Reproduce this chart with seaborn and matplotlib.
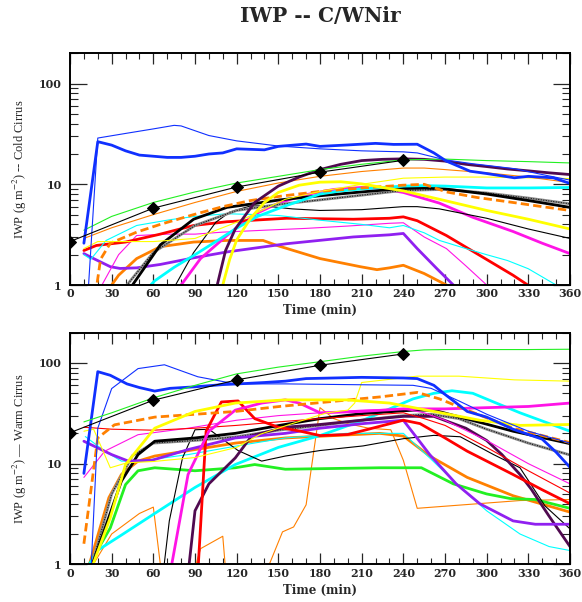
import numpy as np
import pandas as pd
import matplotlib
matplotlib.use("Agg")
import matplotlib.pyplot as plt
import matplotlib.ticker as mticker
import seaborn as sns

# ---------------- data (time in min, IWP in g m-2) ----------------
x_ticks = [0, 30, 60, 90, 120, 150, 180, 210, 240, 270, 300, 330, 360]
x_tick_labels = [str(t) for t in x_ticks]
y_ticks = [1, 10, 100]
y_tick_labels = ["1", "10", "100"]

# Cold cirrus panel
cold_diam = ([0, 60, 120, 180, 240], [2.7, 5.8, 9.4, 13.2, 17.3])
cold_green_thin = ([10, 30, 60, 90, 120, 150, 180, 210, 240, 270, 300, 330, 360],
                   [3.5, 4.8, 6.6, 8.4, 10.3, 12.0, 14.0, 15.8, 17.5, 17.8, 17.2, 16.8, 16.3])
cold_blue_thin = ([12, 20, 40, 60, 75, 80, 100, 120, 150, 180, 210, 240, 250, 270, 290, 320, 340, 360],
                  [0.5, 28.8, 32.0, 35.5, 38.5, 38.0, 30.5, 27.0, 24.0, 22.5, 21.5, 21.0, 20.5, 17.5, 16.0, 14.3, 12.5, 11.0])
cold_blue_thick = ([10, 20, 30, 40, 50, 60, 70, 80, 90, 100, 110, 120, 140, 150, 170, 180, 200, 220, 233, 250,
                    262, 271, 288, 300, 320, 330, 348, 360],
                   [2.6, 26.5, 24.5, 21.5, 19.5, 19.0, 18.5, 18.5, 19.0, 20.0, 20.5, 22.5, 22.0, 23.8, 25.1, 23.8,
                    24.6, 25.5, 24.9, 25.0, 20.5, 17.0, 13.5, 12.8, 11.6, 12.0, 11.6, 10.2])
cold_orange_thin = ([10, 30, 60, 90, 120, 150, 180, 210, 240, 255, 270, 300, 330, 360],
                    [2.9, 3.7, 5.0, 6.6, 8.5, 10.3, 12.0, 13.4, 14.5, 14.5, 14.0, 13.0, 11.8, 10.4])
cold_darkpurple = ([100, 106, 112, 119, 133, 150, 165, 180, 195, 210, 225, 240, 255, 270, 285, 300, 315, 330, 345, 360],
                   [0.2, 1.0, 2.2, 3.6, 6.6, 9.6, 11.8, 14.0, 15.8, 17.2, 17.7, 17.9, 17.7, 17.0, 15.8, 15.0, 14.2, 13.6, 13.0, 12.5])
cold_yellow_thin = ([10, 20, 30, 60, 90, 120, 155, 180, 210, 240, 270, 300, 330, 360],
                    [2.3, 2.7, 2.7, 2.7, 2.9, 4.2, 7.1, 8.5, 10.0, 11.5, 11.8, 11.8, 11.6, 11.4])
cold_yellow_thick = ([104, 110, 115, 120, 130, 140, 150, 165, 180, 195, 210, 225, 240, 266, 300, 330, 360],
                     [0.3, 1.0, 1.8, 2.8, 4.6, 6.6, 8.3, 9.8, 10.5, 10.6, 10.1, 9.3, 8.6, 7.1, 5.5, 4.5, 3.6])
cold_cyan_thick = ([55, 61, 75, 90, 105, 119, 135, 155, 180, 195, 210, 225, 240, 255, 270, 285, 300, 330, 360],
                   [0.9, 1.1, 1.5, 2.0, 2.7, 3.6, 4.8, 6.1, 8.0, 8.6, 9.0, 9.3, 9.6, 9.7, 9.6, 9.4, 9.2, 9.2, 9.3])
cold_cyan_thin = ([10, 15, 26, 48, 72, 90, 113, 135, 150, 180, 210, 230, 240, 255, 266, 285, 300, 315, 330, 350, 360],
                  [2.0, 1.8, 2.77, 3.9, 4.45, 4.8, 5.1, 5.0, 4.9, 4.4, 4.0, 3.7, 3.9, 3.3, 2.77, 2.3, 2.0, 1.75, 1.45, 1.0, 0.85])
cold_black_thick = ([40, 45, 65, 89, 113, 135, 151, 180, 210, 240, 255, 270, 300, 330, 360],
                    [0.6, 1.0, 2.5, 4.5, 5.9, 6.5, 7.0, 7.7, 8.4, 9.1, 9.2, 9.0, 8.0, 6.9, 5.9])
cold_gray = ([36, 41, 60, 90, 120, 150, 180, 210, 240, 270, 300, 330, 360],
             [0.6, 1.0, 2.1, 3.9, 5.5, 6.3, 7.0, 7.8, 8.7, 8.9, 8.2, 7.3, 6.4])
cold_black_thin = ([72, 76, 89, 105, 115, 130, 140, 160, 180, 210, 240, 250, 266, 300, 330, 360],
                   [0.5, 1.0, 2.1, 4.2, 5.3, 6.1, 6.1, 5.7, 5.5, 5.6, 6.0, 6.0, 5.7, 4.6, 3.6, 2.9])
cold_orange_dashed = ([17, 22, 29, 48, 65, 89, 110, 130, 151, 180, 210, 240, 255, 271, 293, 319, 340, 360],
                      [0.6, 1.8, 2.6, 3.35, 4.0, 5.0, 6.0, 6.9, 7.6, 8.5, 9.2, 9.8, 10.0, 8.4, 7.4, 6.6, 6.0, 5.5])
cold_red_thick = ([10, 19, 40, 65, 89, 113, 156, 204, 230, 240, 250, 271, 295, 319, 332, 345],
                  [2.2, 2.47, 2.67, 3.2, 3.9, 4.25, 4.6, 4.5, 4.6, 4.75, 4.35, 3.1, 1.97, 1.25, 0.95, 0.7])
cold_magenta_thin = ([20, 23, 35, 48, 70, 90, 110, 140, 170, 200, 230, 240, 255, 271, 285, 300, 310],
                     [0.8, 1.0, 2.0, 3.1, 3.2, 3.2, 3.35, 3.5, 3.65, 3.85, 4.1, 4.15, 3.0, 2.3, 1.55, 1.0, 0.75])
cold_magenta_thick = ([76, 80, 94, 113, 120, 135, 150, 170, 190, 210, 225, 240, 266, 290, 319, 340, 360],
                      [0.7, 1.0, 1.83, 3.1, 3.7, 5.2, 6.5, 7.9, 8.9, 9.3, 9.0, 8.3, 6.5, 4.7, 3.4, 2.6, 2.05])
cold_orange_thick = ([25, 35, 48, 65, 89, 113, 139, 149, 180, 209, 221, 230, 240, 255, 271, 285],
                     [0.8, 1.25, 1.83, 2.4, 2.67, 2.77, 2.77, 2.47, 1.83, 1.52, 1.42, 1.48, 1.57, 1.3, 1.0, 0.8])
cold_purple_thick = ([10, 17, 29, 36, 48, 65, 89, 113, 156, 204, 230, 240, 250, 264, 276, 290],
                     [2.05, 1.83, 1.52, 1.46, 1.48, 1.6, 1.86, 2.13, 2.57, 3.0, 3.15, 3.25, 2.3, 1.46, 1.0, 0.7])

# Warm cirrus panel
warm_diam = ([0, 60, 120, 180, 240], [20.3, 42.7, 68.0, 95.0, 123.0])
warm_green_thin = ([10, 30, 60, 90, 120, 150, 180, 210, 240, 255, 270, 300, 330, 360],
                   [26, 32, 45, 60, 78, 91, 103, 117, 130, 135, 136, 136, 136, 137])
warm_blue_thick = ([10, 20, 29, 41, 50, 61, 72, 90, 110, 121, 140, 155, 170, 210, 240, 250, 262, 269, 286, 300,
                    319, 340, 350, 360],
                   [8.0, 82, 75.5, 62, 57, 52.6, 56, 58, 61, 62, 64, 66, 70, 72, 71, 70, 60, 50, 33, 29,
                    22, 17.5, 13.0, 9.2])
warm_blue_thin = ([15, 20, 30, 49, 68, 92, 119, 155, 200, 247, 260, 280, 300, 330, 360],
                  [0.8, 22.5, 55.7, 88, 96, 73, 62, 62, 61, 60, 56, 42, 31, 21, 16])
warm_yellow_thin = ([10, 17, 29, 41, 60, 90, 120, 137, 160, 185, 200, 205, 210, 250, 280, 320, 360],
                    [21, 22, 9.1, 10.2, 10.5, 11.5, 14.5, 19.6, 25, 32, 34, 40, 64, 74, 74, 68, 66])
warm_yellow_thick = ([14, 29, 40, 61, 90, 119, 155, 199, 230, 262, 295, 324, 360],
                     [0.8, 2.9, 9.8, 22.5, 33, 40, 43, 43, 40, 33, 27, 24, 24.5])
warm_orange_dashed = ([10, 20, 32, 61, 119, 151, 223, 250, 266, 286, 319, 360],
                      [1.6, 18, 24.3, 29, 33, 37, 46, 51, 44, 34, 22.5, 16.2])
warm_red_thin = ([10, 30, 60, 90, 120, 150, 180, 210, 240, 255, 270, 300, 330, 360],
                 [23, 22, 21.5, 22.5, 24, 26, 28, 30, 32, 28, 24, 14.5, 8.5, 5.1])
warm_red_thick = ([92, 98, 109, 121, 133, 150, 166, 180, 200, 215, 240, 252, 270, 286, 319, 340, 360],
                  [0.8, 21, 41, 42, 28, 23, 21, 19, 19.5, 22, 27, 25, 18, 13.3, 7.8, 5.5, 4.0])
warm_magenta_thick = ([72, 85, 100, 119, 138, 155, 165, 180, 210, 240, 270, 300, 330, 360],
                      [0.8, 7.8, 21, 34, 40, 43, 40, 32, 33, 35, 35, 36, 37, 40])
warm_magenta_thin = ([10, 25, 49, 85, 120, 150, 180, 210, 240, 255, 270, 300, 330, 360],
                     [7.3, 13.3, 19.4, 22.5, 27, 30, 32, 34, 35, 32, 27, 17, 10, 6.3])
warm_purple_thick = ([10, 30, 42, 59, 85, 119, 155, 180, 211, 240, 259, 278, 295, 319, 335, 360],
                     [16.7, 12.3, 10.6, 10.8, 13.8, 18, 20, 22.5, 25, 27, 12.3, 6.3, 4.0, 2.7, 2.5, 2.5])
warm_green_thick = ([12, 29, 40, 49, 61, 90, 119, 133, 155, 223, 253, 276, 300, 317, 335, 360],
                    [0.9, 2.3, 6.2, 8.5, 9.1, 8.5, 9.1, 9.8, 8.8, 9.1, 9.1, 6.3, 5.0, 4.5, 4.4, 3.6])
warm_cyan_thick = ([12, 20, 37, 61, 90, 119, 150, 180, 211, 247, 262, 275, 290, 305, 324, 360],
                   [0.9, 1.38, 1.95, 3.2, 5.8, 9.8, 14.5, 19, 27, 44, 50, 53, 50, 41, 32, 21])
warm_cyan_thin = ([11, 25, 37, 50, 85, 119, 155, 199, 240, 259, 281, 300, 324, 345, 360],
                  [18.6, 13.3, 10.6, 10.6, 12.3, 14.9, 18, 20, 20, 11.4, 5.8, 3.4, 2.0, 1.5, 1.37])
warm_black_thick = ([15, 37, 49, 61, 90, 119, 151, 180, 211, 247, 262, 285, 319, 360],
                    [0.9, 6.7, 12.3, 16.7, 18, 20, 24, 28, 31.5, 34, 34, 28, 21, 15.8])
warm_gray = ([15, 30, 45, 60, 90, 120, 150, 180, 210, 240, 260, 280, 300, 330, 360],
             [0.9, 5, 12, 16, 17, 18.5, 21.5, 24, 27, 30, 31, 28, 22, 16, 12.2])
warm_black_thin = ([67, 71.5, 81, 90, 100, 121, 138, 155, 180, 211, 240, 262, 281, 305, 324, 342, 360],
                   [0.8, 2.7, 11.4, 21.7, 22, 13.5, 10.6, 11.9, 13.5, 15, 17.7, 19.1, 18.5, 12.3, 9.1, 3.8, 2.25])
warm_darkpurple = ([85, 90, 100, 119, 131, 155, 180, 210, 240, 262, 285, 300, 311, 324, 332, 345, 360],
                   [0.8, 3.4, 6.3, 11.4, 19, 23, 24.5, 27, 29.5, 29.5, 22.5, 17, 12.3, 7.8, 5.6, 3.0, 1.5])
warm_orange_thick = ([13, 28, 37, 49, 61, 90, 119, 155, 223, 240, 259, 286, 319, 360],
                     [0.9, 4.6, 7.8, 10.6, 11.9, 13.8, 16, 18, 20, 18.8, 11.9, 7.3, 4.8, 3.3])
warm_orange_thin = ([10, 30, 50, 60, 67, 86, 94, 110, 113, 137, 153, 161, 170, 180, 190, 200, 215, 231, 240, 250,
                     324, 360],
                    [0.7, 2.0, 3.2, 3.7, 0.6, 0.6, 1.43, 1.9, 0.6, 0.6, 2.1, 2.35, 3.9, 36, 28, 25, 22.5, 21.7, 10.8, 3.6,
                     4.3, 4.4])

# ---------------- styles ----------------
BLUE, GREEN, YELLOW, CYAN = "#1030ff", "#22f022", "#ffff00", "#00ffff"
MAGENTA, RED, ORANGE, PURPLE = "#ff14e6", "#ff0000", "#ff8000", "#9020f0"
DARKPURPLE, GRAY = "#500a50", "#8c8c8c"
THICK, THIN = 2.0, 0.8

cold_series = [
    (cold_orange_thick, ORANGE, THICK, "-"),
    (cold_purple_thick, PURPLE, THICK, "-"),
    (cold_magenta_thin, MAGENTA, THIN, "-"),
    (cold_magenta_thick, MAGENTA, THICK, "-"),
    (cold_red_thick, RED, THICK, "-"),
    (cold_cyan_thin, CYAN, THIN, "-"),
    (cold_black_thin, "black", THIN, "-"),
    (cold_gray, GRAY, THICK, "-"),
    (cold_black_thick, "black", THICK, "-"),
    (cold_cyan_thick, CYAN, THICK, "-"),
    (cold_orange_dashed, ORANGE, THICK, (0, (3, 1.5))),
    (cold_yellow_thin, YELLOW, THIN, "-"),
    (cold_yellow_thick, YELLOW, THICK, "-"),
    (cold_orange_thin, ORANGE, THIN, "-"),
    (cold_darkpurple, DARKPURPLE, THICK, "-"),
    (cold_green_thin, GREEN, THIN, "-"),
    (cold_blue_thin, BLUE, THIN, "-"),
    (cold_blue_thick, BLUE, THICK, "-"),
]
warm_series = [
    (warm_orange_thin, ORANGE, THIN, "-"),
    (warm_orange_thick, ORANGE, THICK, "-"),
    (warm_green_thick, GREEN, THICK, "-"),
    (warm_cyan_thin, CYAN, THIN, "-"),
    (warm_cyan_thick, CYAN, THICK, "-"),
    (warm_black_thin, "black", THIN, "-"),
    (warm_gray, GRAY, THICK, "-"),
    (warm_black_thick, "black", THICK, "-"),
    (warm_darkpurple, DARKPURPLE, THICK, "-"),
    (warm_purple_thick, PURPLE, THICK, "-"),
    (warm_magenta_thin, MAGENTA, THIN, "-"),
    (warm_red_thin, RED, THIN, "-"),
    (warm_red_thick, RED, THICK, "-"),
    (warm_magenta_thick, MAGENTA, THICK, "-"),
    (warm_orange_dashed, ORANGE, THICK, (0, (3, 1.5))),
    (warm_yellow_thick, YELLOW, THICK, "-"),
    (warm_yellow_thin, YELLOW, THIN, "-"),
    (warm_blue_thin, BLUE, THIN, "-"),
    (warm_blue_thick, BLUE, THICK, "-"),
    (warm_green_thin, GREEN, THIN, "-"),
]

sns.set_style("white")
plt.rcParams["font.family"] = ["DejaVu Serif"]
plt.rcParams["mathtext.fontset"] = "stix"

fig = plt.figure(figsize=(5.82, 6.02), dpi=100)
ax_top = fig.add_axes([70 / 582, 1 - 285 / 602, 500 / 582, (285 - 53.3) / 602])
ax_bot = fig.add_axes([70 / 582, 1 - 564.3 / 602, 500 / 582, (564.3 - 332.7) / 602])


def draw(ax, series, diam, ylabel):
    ax.set_yscale("log")
    for (tv, color, lw, ls) in series:
        df = pd.DataFrame({"t": tv[0], "v": tv[1]})
        sns.lineplot(data=df, x="t", y="v", ax=ax, color=color, lw=lw, linestyle=ls,
                     sort=False, estimator=None, legend=False)
        if color == GRAY:
            sns.lineplot(data=df, x="t", y="v", ax=ax, color="black", lw=0.7,
                         linestyle=(0, (1, 1.6)), sort=False, estimator=None, legend=False)
    dfd = pd.DataFrame({"t": diam[0], "v": diam[1]})
    sns.lineplot(data=dfd, x="t", y="v", ax=ax, color="black", lw=THIN, marker="D",
                 markersize=6.5, markeredgecolor="black", sort=False, estimator=None, legend=False)
    ax.set_xlim(0, 360)
    ax.set_ylim(1, 200)
    ax.set_xticks(x_ticks)
    ax.set_xticklabels(x_tick_labels, fontsize=8, fontweight="bold")
    ax.xaxis.set_minor_locator(mticker.MultipleLocator(10))
    ax.set_yticks(y_ticks)
    ax.set_yticklabels(y_tick_labels, fontsize=8, fontweight="bold")
    ax.yaxis.set_minor_locator(mticker.LogLocator(base=10, subs=np.arange(2, 10)))
    ax.yaxis.set_minor_formatter(mticker.NullFormatter())
    ax.tick_params(axis="x", which="major", direction="in", length=8, width=0.9,
                   top=True, bottom=True, pad=2.5)
    ax.tick_params(axis="x", which="minor", direction="in", length=4.3, width=0.8,
                   top=True, bottom=True)
    ax.tick_params(axis="y", which="major", direction="in", length=12, width=0.9,
                   left=True, right=True, pad=6)
    ax.tick_params(axis="y", which="minor", direction="in", length=6, width=0.8,
                   left=True, right=True)
    for sp in ax.spines.values():
        sp.set_linewidth(1.4)
        sp.set_color("black")
    ax.set_xlabel("Time (min)", fontsize=8.5, fontweight="bold", labelpad=3.5)
    ax.set_ylabel(ylabel, fontsize=9, family="Liberation Serif", labelpad=7)


draw(ax_top, cold_series, cold_diam, r"IWP (g m$^{-2}$) -- Cold Cirrus")
draw(ax_bot, warm_series, warm_diam, r"IWP (g m$^{-2}$) — Warm Cirrus")

fig.text(320 / 582, 1 - 16 / 602, "IWP -- C/WNir", ha="center", va="center",
         fontsize=14.5, fontweight="bold")

fig.savefig("out.png", dpi=100)
